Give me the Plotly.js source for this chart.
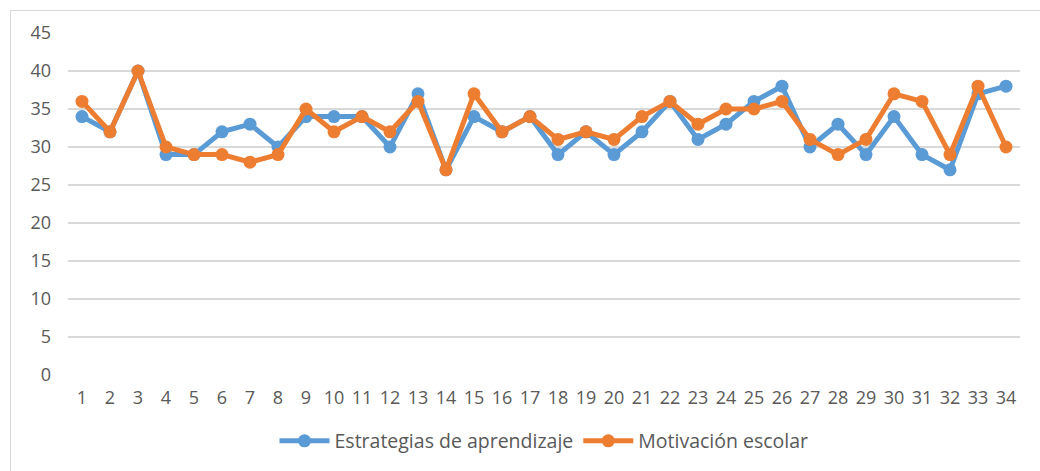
<!DOCTYPE html>
<html>
<head>
<meta charset="utf-8">
<script src="https://cdn.plot.ly/plotly-3.0.1.min.js"></script>
<style>
  html, body { margin: 0; padding: 0; background: #ffffff; }
  #wrap { position: relative; width: 1040px; height: 471px; overflow: hidden; }
  #frame { position: absolute; left: 10px; top: 10px; width: 1040px; height: 480px; border: 1.5px solid #d9d9d9; box-sizing: border-box; pointer-events: none; }
  #chart { position: absolute; left: 0; top: 0; width: 1040px; height: 471px; }
</style>
</head>
<body>
<div id="wrap">
  <div id="chart"></div>
  <div id="frame"></div>
</div>
<script>
const categories = ["1","2","3","4","5","6","7","8","9","10","11","12","13","14","15","16","17","18","19","20","21","22","23","24","25","26","27","28","29","30","31","32","33","34"];
const estrategias = [34,32,40,29,29,32,33,30,34,34,34,30,37,27,34,32,34,29,32,29,32,36,31,33,36,38,30,33,29,34,29,27,37,38];
const motivacion = [36,32,40,30,29,29,28,29,35,32,34,32,36,27,37,32,34,31,32,31,34,36,33,35,35,36,31,29,31,37,36,29,38,30];
const seriesNames = ["Estrategias de aprendizaje", "Motivación escolar"];
const yTicks = [0,5,10,15,20,25,30,35,40,45];

const font = "'Open Sans', 'Noto Sans', sans-serif";
const fs = 18;

const traces = [
  { x: categories, y: estrategias, name: seriesNames[0], type: "scatter", mode: "lines+markers",
    line: { color: "#5B9BD5", width: 5 }, marker: { color: "#5B9BD5", size: 13 } },
  { x: categories, y: motivacion, name: seriesNames[1], type: "scatter", mode: "lines+markers",
    line: { color: "#ED7D31", width: 5 }, marker: { color: "#ED7D31", size: 13 } }
];

const layout = {
  width: 1040, height: 471,
  margin: { l: 68, r: 20, t: 33, b: 95, pad: 0 },
  paper_bgcolor: "#ffffff", plot_bgcolor: "#ffffff",
  font: { family: font, size: fs, color: "#595959" },
  showlegend: true,
  legend: { orientation: "h", x: 0.5, xanchor: "center", y: -0.19, yanchor: "middle",
            font: { family: font, size: 19.5, color: "#595959" }, itemwidth: 50, tracegroupgap: 0 },
  xaxis: { type: "category", range: [-0.5, 33.5], showgrid: false, zeroline: false,
           showline: false, ticks: "", tickfont: { family: font, size: fs, color: "#595959" },
           ticklabelstandoff: 10, fixedrange: true },
  yaxis: { range: [0, 45], tickvals: yTicks, ticktext: yTicks.map(String), showgrid: true,
           gridcolor: "#d9d9d9", gridwidth: 1.5, zeroline: false, showline: false, ticks: "",
           tickfont: { family: font, size: fs, color: "#595959" }, ticklabelstandoff: 16, fixedrange: true }
};

Plotly.newPlot("chart", traces, layout, { displayModeBar: false, staticPlot: true });
</script>
</body>
</html>
